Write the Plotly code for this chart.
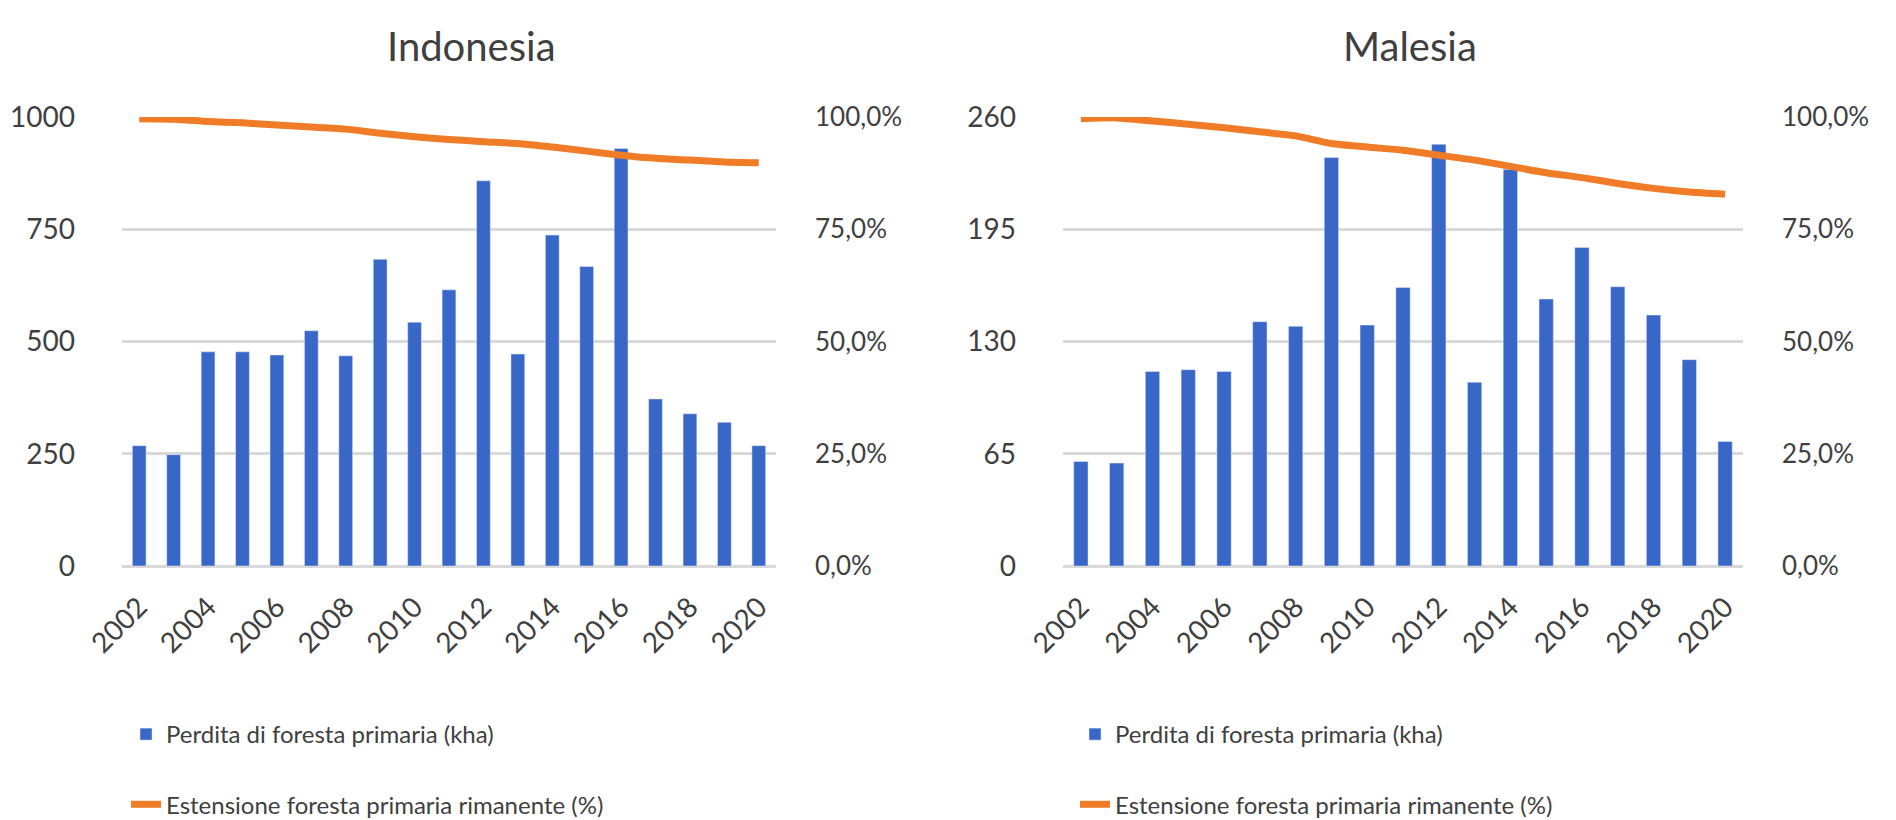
import plotly.graph_objects as go

years = list(range(2002, 2021))

indo_loss = [268, 248, 477, 477, 470, 524, 468, 683, 543, 615, 858, 472, 737, 667, 930, 372, 339, 320, 268]
indo_extent = [99.6, 99.5, 99.0, 98.7, 98.2, 97.8, 97.3, 96.4, 95.6, 95.0, 94.5, 94.1, 93.3, 92.4, 91.5, 90.8, 90.4, 90.0, 89.8]

mal_loss = [60.5, 59.6, 112.6, 113.7, 112.6, 141.5, 138.8, 236.5, 139.5, 161.3, 244.2, 106.4, 229.7, 154.6, 184.4, 161.7, 145.3, 119.5, 72.1]
mal_extent = [99.6, 99.8, 99.1, 98.4, 97.6, 96.7, 95.8, 94.1, 93.3, 92.6, 91.5, 90.4, 89.0, 87.6, 86.5, 85.2, 84.1, 83.3, 82.8]

titles = ["Indonesia", "Malesia"]
bar_name = "Perdita di foresta primaria (kha)"
line_name = "Estensione foresta primaria rimanente (%)"

BLUE = "#3867C8"
ORANGE = "#F07C28"
GRID = "#D9D9D9"
TXT = "#404040"
FONT = "Lato"
W, H = 1896, 820
OFF = 8  # page body margin compensation

fig = go.Figure()

fig.add_trace(go.Bar(x=years, y=indo_loss, name=bar_name, marker_color=BLUE,
                     xaxis="x", yaxis="y", legend="legend", legendgroup="a1"))
fig.add_trace(go.Scatter(x=years, y=indo_extent, name=line_name, mode="lines",
                         line=dict(color=ORANGE, width=7, shape="spline", smoothing=0.6),
                         xaxis="x", yaxis="y2", legend="legend", legendgroup="a2"))
fig.add_trace(go.Bar(x=years, y=mal_loss, name=bar_name, marker_color=BLUE,
                     xaxis="x2", yaxis="y3", legend="legend2", legendgroup="b1"))
fig.add_trace(go.Scatter(x=years, y=mal_extent, name=line_name, mode="lines",
                         line=dict(color=ORANGE, width=7, shape="spline", smoothing=0.6),
                         xaxis="x2", yaxis="y4", legend="legend2", legendgroup="b2"))

ydom = [1 - (566 - OFF) / H, 1 - (117 - OFF) / H]
tickfont = dict(family=FONT, size=28, color=TXT)
tickfont_r = dict(family=FONT, size=26, color=TXT)

xcommon = dict(range=[2001.5, 2020.5], tick0=2002, dtick=2, tickangle=-45,
               showgrid=False, zeroline=False, showline=False, ticks="",
               tickfont=tickfont, ticklabelstandoff=18, automargin=False)

def yleft(rng, dt):
    return dict(range=rng, dtick=dt, tick0=0, showgrid=True, gridcolor=GRID, gridwidth=3,
                zeroline=True, zerolinecolor=GRID, zerolinewidth=3, showline=False,
                ticks="", tickfont=tickfont, ticklabelstandoff=46, domain=ydom,
                automargin=False)

def yright(ov, anchor):
    return dict(range=[0, 100], dtick=25, tick0=0, overlaying=ov, side="right", anchor=anchor,
                showgrid=False, zeroline=False, showline=False, ticks="",
                tickformat=".1f", ticksuffix="%", tickfont=tickfont_r, ticklabelstandoff=38,
                automargin=False)

leg_common = dict(orientation="v", xanchor="left", yanchor="top", bgcolor="rgba(0,0,0,0)",
                  font=dict(family=FONT, size=24, color=TXT), tracegroupgap=36,
                  traceorder="grouped", itemwidth=30)

fig.update_layout(
    width=W, height=H,
    margin=dict(l=0, r=0, t=0, b=0, autoexpand=False),
    paper_bgcolor="white", plot_bgcolor="white",
    separators=",.",
    bargap=0.6,
    font=dict(family=FONT, color=TXT),
    xaxis=dict(domain=[(122 - OFF) / W, (776 - OFF) / W], anchor="y", **xcommon),
    xaxis2=dict(domain=[(1063 - OFF) / W, (1743 - OFF) / W], anchor="y3", **xcommon),
    yaxis=dict(anchor="x", **yleft([0, 1000], 250)),
    yaxis2=yright("y", "x"),
    yaxis3=dict(anchor="x2", **yleft([0, 260], 65)),
    yaxis4=yright("y3", "x2"),
    legend=dict(x=(126 - OFF) / W, y=1 - (712 - OFF) / H, **leg_common),
    legend2=dict(x=(1075 - OFF) / W, y=1 - (712 - OFF) / H, **leg_common),
    annotations=[
        dict(text=titles[0], x=(471 - OFF) / W, y=1 - (46 - OFF) / H, xref="paper", yref="paper",
             showarrow=False, xanchor="center", yanchor="middle",
             font=dict(family=FONT, size=40, color=TXT)),
        dict(text=titles[1], x=(1410 - OFF) / W, y=1 - (46 - OFF) / H, xref="paper", yref="paper",
             showarrow=False, xanchor="center", yanchor="middle",
             font=dict(family=FONT, size=40, color=TXT)),
    ],
)

fig.write_html("out.html")
